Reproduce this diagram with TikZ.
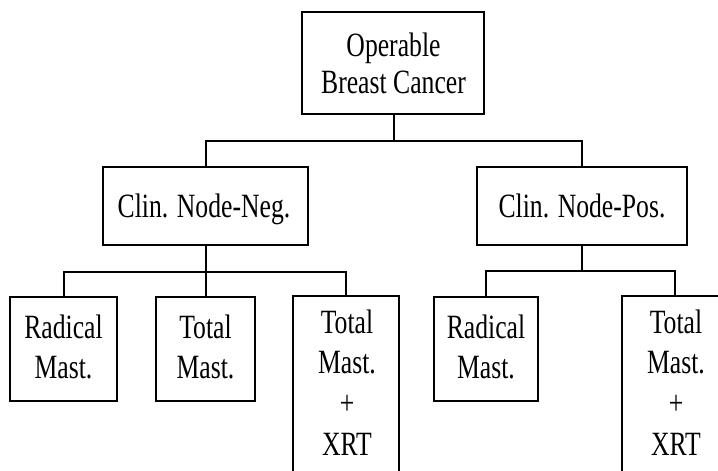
\documentclass[tikz,border=0pt]{standalone}
\usepackage{graphicx}
\usepackage{fontspec}
\setmainfont{Liberation Serif}
% narrow set of the serif face
\newcommand{\narrow}[1]{\scalebox{0.755}[1]{#1}}
\begin{document}
\begin{tikzpicture}[x=1pt,y=-1pt,
  box/.style={draw, line width=2pt, rectangle, inner sep=0pt, fill=none},
  txt/.style={anchor=base, inner sep=0pt, font=\fontsize{34}{40}\selectfont},
  wire/.style={draw, line width=2pt}]
\useasboundingbox (0,0) rectangle (718,471);
\clip (0,0) rectangle (718,471);
\fill[white] (0,0) rectangle (718,471);

% boxes
\node[box, minimum width=182pt, minimum height=102pt] (top) at (393,63) {};
\node[box, minimum width=205pt, minimum height=78pt] (neg) at (205.5,206) {};
\node[box, minimum width=210pt, minimum height=78pt] (pos) at (581.5,206) {};
\node[box, minimum width=107pt, minimum height=104pt] (rad1) at (63.5,349) {};
\node[box, minimum width=99pt, minimum height=104pt] (tot1) at (205.5,349) {};
\node[box, minimum width=106pt, minimum height=200pt, anchor=north] (tall1) at (346,294.5) {};
\node[box, minimum width=104pt, minimum height=104pt] (rad2) at (486,349) {};
\node[box, minimum width=106pt, minimum height=200pt, anchor=north] (tall2) at (675,295) {};

% labels
\node[txt] (topa) at (393.5,56) {\narrow{Operable}};
\node[txt] (topb) at (393.5,93) {\narrow{Breast Cancer}};
\node[txt] (nega) at (204,217) {\narrow{Clin. Node-Neg.}};
\node[txt] (posa) at (582,217) {\narrow{Clin. Node-Pos.}};
\node[txt] (rad1a) at (63.5,338) {\narrow{Radical}};
\node[txt] (rad1b) at (63.5,378) {\narrow{Mast.}};
\node[txt] (tot1a) at (205.5,338) {\narrow{Total}};
\node[txt] (tot1b) at (205.5,378) {\narrow{Mast.}};
\node[txt] (tall1a) at (347,333) {\narrow{Total}};
\node[txt] (tall1b) at (347,373.5) {\narrow{Mast.}};
\node[txt] (tall1c) at (347,414) {\narrow{+}};
\node[txt] (tall1d) at (347,455) {\narrow{XRT}};
\node[txt] (rad2a) at (486,338) {\narrow{Radical}};
\node[txt] (rad2b) at (486,378) {\narrow{Mast.}};
\node[txt] (tall2a) at (676,333) {\narrow{Total}};
\node[txt] (tall2b) at (676,373.5) {\narrow{Mast.}};
\node[txt] (tall2c) at (676,414) {\narrow{+}};
\node[txt] (tall2d) at (676,455) {\narrow{XRT}};

% junctions
\coordinate (j1) at (394,141);
\coordinate (j2) at (205.5,272);
\coordinate (j3) at (581.5,271);

% connectors
\draw[wire] (top.south -| j1) -- (j1);
\draw[wire] (j1) -| (neg.north);
\draw[wire] (j1) -| (pos.north);
\draw[wire] (neg.south) -- (j2);
\draw[wire] (j2) -| (rad1.north);
\draw[wire] (j2) -- (tot1.north);
\draw[wire] (j2) -| (tall1.north);
\draw[wire] (pos.south) -- (j3);
\draw[wire] (j3) -| (rad2.north);
\draw[wire] (j3) -| (tall2.north);
\end{tikzpicture}
\end{document}
